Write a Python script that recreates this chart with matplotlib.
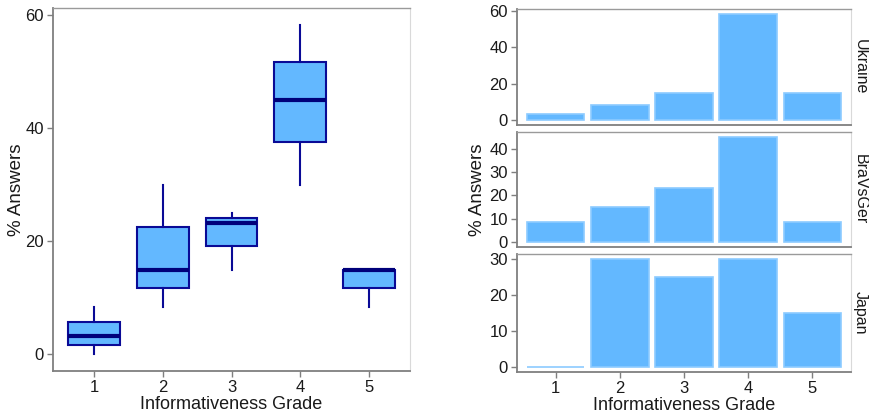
import numpy as np
import matplotlib
matplotlib.use("Agg")
import matplotlib.pyplot as plt

plt.rcParams['font.family'] = ['Liberation Sans', 'DejaVu Sans']

grades = [1, 2, 3, 4, 5]
countries = ["Ukraine", "BraVsGer", "Japan"]
ukraine = [3.33, 8.33, 15.0, 58.33, 15.0]
bravsger = [8.33, 15.0, 23.33, 45.0, 8.33]
japan = [0.0, 30.0, 25.0, 30.0, 15.0]
series = [ukraine, bravsger, japan]
yticks = [[0, 20, 40, 60], [0, 10, 20, 30, 40], [0, 10, 20, 30]]

fill = '#63B8FF'
edge_dark = '#0A0A96'
spine_dark = '#7F7F7F'
spine_light = '#D9D9D9'
txt = '#1A1A1A'

W, H = 870, 418
fig = plt.figure(figsize=(W / 100, H / 100), dpi=100)


def px_axes(x0, y0, x1, y1):
    return fig.add_axes([x0 / W, 1 - y1 / H, (x1 - x0) / W, (y1 - y0) / H])


def style(ax, show_x=True):
    for s in ['left', 'bottom']:
        ax.spines[s].set_color(spine_dark)
        ax.spines[s].set_linewidth(1.3)
    ax.spines['top'].set_color('#9A9A9A')
    ax.spines['top'].set_linewidth(1.0)
    ax.spines['right'].set_color(spine_light)
    ax.spines['right'].set_linewidth(0.8)
    ax.tick_params(axis='both', colors=spine_dark, labelcolor=txt, labelsize=12,
                   length=4, width=1.0, direction='out', pad=2.5)
    if not show_x:
        ax.tick_params(axis='x', length=0, labelbottom=False)


# Left: boxplot across countries
axL = px_axes(53, 8, 410, 371)
data_by_grade = [[s[i] for s in series] for i in range(len(grades))]
bp = axL.boxplot(data_by_grade, positions=grades, widths=0.75, whis=(0, 100),
                 patch_artist=True, showfliers=False, showcaps=False)
for b in bp['boxes']:
    b.set_facecolor(fill)
    b.set_edgecolor(edge_dark)
    b.set_linewidth(1.5)
for w in bp['whiskers']:
    w.set_color(edge_dark)
    w.set_linewidth(1.5)
for m in bp['medians']:
    m.set_color('#00007A')
    m.set_linewidth(3.0)
axL.set_xlim(0.4, 5.6)
axL.set_ylim(-2.92, 61.25)
axL.set_yticks([0, 20, 40, 60])
axL.set_xticks(grades)
axL.set_xticklabels([str(g) for g in grades])
style(axL)
axL.set_xlabel("Informativeness Grade", fontsize=13, color=txt, labelpad=1)
axL.set_ylabel("% Answers", fontsize=13.5, color=txt)
axL.yaxis.set_label_coords((25 - 53) / 357, 0.5)

# Right: faceted bars
panels = [(9, 125), (132, 247), (254, 372)]
axes_r = []
for k, (name, vals, yt, (y0, y1)) in enumerate(zip(countries, series, yticks, panels)):
    ax = px_axes(517, y0, 851, y1)
    ax.bar(grades, vals, width=0.9, color=fill, edgecolor='#8CCBFF', linewidth=1.2)
    mx = max(vals)
    ax.set_ylim(-0.05 * mx, 1.05 * mx)
    ax.set_xlim(0.4, 5.6)
    ax.set_yticks(yt)
    ax.set_xticks(grades)
    ax.set_xticklabels([str(g) for g in grades])
    style(ax, show_x=(k == 2))
    ax.text((860 - 517) / 334, 0.5, name, transform=ax.transAxes, rotation=-90,
            va='center', ha='center', fontsize=11.5, color=txt)
    axes_r.append(ax)

axes_r[2].set_xlabel("Informativeness Grade", fontsize=13, color=txt, labelpad=1)
axes_r[1].set_ylabel("% Answers", fontsize=13.5, color=txt)
axes_r[1].yaxis.set_label_coords((486 - 517) / 334, 0.5)

fig.savefig("out.png", dpi=100)
